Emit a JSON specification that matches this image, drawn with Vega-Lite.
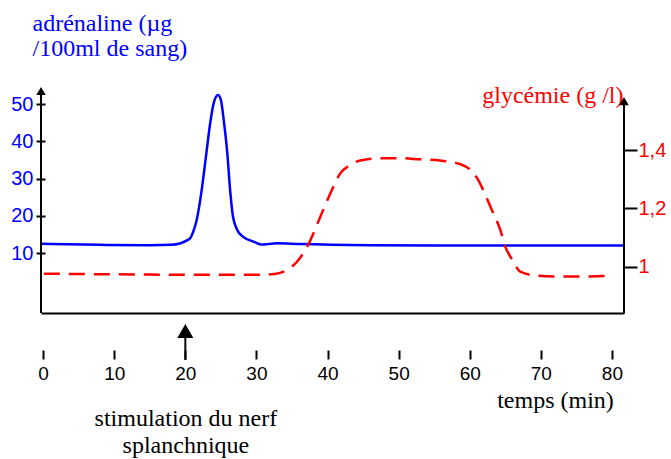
{
  "$schema": "https://vega.github.io/schema/vega-lite/v6.json",
  "width": 583,
  "height": 222,
  "autosize": {"type": "none"},
  "padding": {"left": 41, "top": 91, "right": 47, "bottom": 146},
  "background": "white",
  "config": {
    "view": {"stroke": null},
    "axis": {"grid": false, "labelFont": "Liberation Sans", "titleFont": "Liberation Serif", "titleFontWeight": "normal"}
  },
  "datasets": {
    "adrenaline": [
      {"t": -0.3, "adr": 12.5},
      {"t": 8, "adr": 12.2},
      {"t": 15, "adr": 12.1},
      {"t": 18, "adr": 12.2},
      {"t": 20.6, "adr": 13.8},
      {"t": 21.1, "adr": 15.7},
      {"t": 21.6, "adr": 18.9},
      {"t": 22.3, "adr": 26.9},
      {"t": 22.9, "adr": 35.9},
      {"t": 23.5, "adr": 44.9},
      {"t": 24.0, "adr": 50.3},
      {"t": 24.6, "adr": 52.4},
      {"t": 25.0, "adr": 51.1},
      {"t": 25.4, "adr": 45.7},
      {"t": 25.9, "adr": 36.9},
      {"t": 26.3, "adr": 26.9},
      {"t": 26.7, "adr": 19.8},
      {"t": 27.3, "adr": 16.2},
      {"t": 28.1, "adr": 14.4},
      {"t": 29.7, "adr": 13.0},
      {"t": 30.6, "adr": 12.3},
      {"t": 32.9, "adr": 12.6},
      {"t": 36.1, "adr": 12.4},
      {"t": 46, "adr": 12.1},
      {"t": 60, "adr": 12.0},
      {"t": 74, "adr": 12.0},
      {"t": 81.7, "adr": 12.0}
    ],
    "glycemie": [
      {"t": 0.1, "glu": 0.976},
      {"t": 15, "glu": 0.973},
      {"t": 22, "glu": 0.972},
      {"t": 30, "glu": 0.972},
      {"t": 32.5, "glu": 0.975},
      {"t": 34.3, "glu": 0.989},
      {"t": 35.7, "glu": 1.017},
      {"t": 37.5, "glu": 1.086},
      {"t": 38.9, "glu": 1.166},
      {"t": 40.3, "glu": 1.246},
      {"t": 41.8, "glu": 1.32},
      {"t": 43.2, "glu": 1.349},
      {"t": 44.6, "glu": 1.364},
      {"t": 47.4, "glu": 1.372},
      {"t": 50.2, "glu": 1.372},
      {"t": 53, "glu": 1.368},
      {"t": 55.8, "glu": 1.364},
      {"t": 58.6, "glu": 1.352},
      {"t": 60.1, "glu": 1.332},
      {"t": 61.2, "glu": 1.297},
      {"t": 62.2, "glu": 1.246},
      {"t": 63.1, "glu": 1.195},
      {"t": 64.3, "glu": 1.126},
      {"t": 65, "glu": 1.069},
      {"t": 66, "glu": 1.023},
      {"t": 67.1, "glu": 0.983},
      {"t": 69.5, "glu": 0.969},
      {"t": 72.3, "glu": 0.966},
      {"t": 74.1, "glu": 0.966},
      {"t": 80.2, "glu": 0.969}
    ]
  },
  "layer": [
    {
      "layer": [
        {
          "data": {"name": "adrenaline"},
          "mark": {"type": "line", "interpolate": "monotone", "color": "#0000ff", "strokeWidth": 2.5},
          "encoding": {
            "x": {
              "field": "t", "type": "quantitative",
              "scale": {"domain": [-0.3, 81.7], "nice": false, "zero": false},
              "axis": {
                "orient": "bottom", "domain": true, "domainColor": "black", "domainWidth": 2,
                "ticks": false, "labels": false,
                "title": ["stimulation du nerf", "splanchnique"],
                "titleFontSize": 24, "titleColor": "black",
                "titleX": 144.4, "titleY": 112, "titleAlign": "center", "titleBaseline": "alphabetic",
                "titleLineHeight": 27
              }
            },
            "y": {
              "field": "adr", "type": "quantitative",
              "scale": {"domain": [-6.09, 53.5], "nice": false, "zero": false},
              "axis": {
                "orient": "left", "offset": -4, "values": [10, 20, 30, 40, 50],
                "domain": false,
                "tickColor": "black", "tickWidth": 2, "tickSize": 9,
                "labelColor": "#0000ff", "labelFontSize": 20, "labelPadding": 3,
                "title": ["adrénaline (µg", "/100ml de sang)"],
                "titleColor": "#0000ff", "titleFontSize": 24, "titleAngle": 0,
                "titleAlign": "left", "titleBaseline": "alphabetic",
                "titleX": -13, "titleY": -61, "titleLineHeight": 25
              }
            }
          }
        },
        {
          "data": {"values": [{}]},
          "mark": {"type": "rule", "color": "black", "strokeWidth": 2},
          "encoding": {"x": {"datum": -0.3}, "y": {"datum": -6.09}, "y2": {"datum": 53.5}}
        },
        {
          "data": {"values": [{}]},
          "mark": {"type": "rule", "color": "black", "strokeWidth": 2},
          "encoding": {"x": {"datum": 20}, "y": {"datum": -12.5}, "y2": {"datum": -18.7}}
        },
        {
          "data": {"values": [{}]},
          "mark": {"type": "point", "shape": "triangle-up", "filled": true, "color": "black", "size": 256, "opacity": 1},
          "encoding": {"x": {"datum": 20}, "y": {"datum": -10.93}}
        },
        {
          "data": {"values": [{}]},
          "mark": {"type": "point", "shape": "triangle-up", "filled": true, "color": "black", "size": 90, "opacity": 1},
          "encoding": {"x": {"datum": -0.3}, "y": {"datum": 53.5}}
        }
      ]
    },
    {
      "layer": [
        {
          "data": {"name": "glycemie"},
          "mark": {"type": "line", "interpolate": "monotone", "color": "#ff0000", "strokeWidth": 2.5, "strokeDash": [16, 9]},
          "encoding": {
            "x": {
              "field": "t", "type": "quantitative",
              "scale": {"domain": [-0.3, 81.7], "nice": false, "zero": false},
              "axis": {
                "orient": "bottom", "offset": 37, "domain": false,
                "values": [0, 10, 20, 30, 40, 50, 60, 70, 80],
                "tickColor": "black", "tickWidth": 2, "tickSize": 9,
                "labelFontSize": 19, "labelColor": "black", "labelPadding": 5,
                "title": "temps (min)", "titleFontSize": 24, "titleColor": "black",
                "titleX": 514, "titleY": 57, "titleAlign": "center", "titleBaseline": "alphabetic"
              }
            },
            "y": {
              "field": "glu", "type": "quantitative",
              "scale": {"domain": [0.8412, 1.6024], "nice": false, "zero": false},
              "axis": {
                "orient": "right", "values": [1, 1.2, 1.4], "domain": false,
                "tickColor": "black", "tickWidth": 2, "tickSize": 13,
                "labelColor": "#ff0000", "labelFontSize": 20, "labelPadding": 1,
                "labelExpr": "datum.value == 1 ? '1' : replace(format(datum.value, '.1f'), '.', ',')",
                "title": "glycémie (g /l)", "titleColor": "#ff0000", "titleFontSize": 24, "titleAngle": 0,
                "titleAlign": "right", "titleBaseline": "alphabetic", "titleX": -1, "titleY": 11
              }
            }
          }
        },
        {
          "data": {"values": [{}]},
          "mark": {"type": "rule", "color": "black", "strokeWidth": 2},
          "encoding": {"x": {"datum": 81.7}, "y": {"datum": 0.8412}, "y2": {"datum": 1.568}}
        },
        {
          "data": {"values": [{}]},
          "mark": {"type": "point", "shape": "triangle-up", "filled": true, "color": "black", "size": 90, "opacity": 1},
          "encoding": {"x": {"datum": 81.7}, "y": {"datum": 1.568}}
        }
      ]
    }
  ],
  "resolve": {"scale": {"y": "independent"}, "axis": {"x": "independent", "y": "independent"}}
}
